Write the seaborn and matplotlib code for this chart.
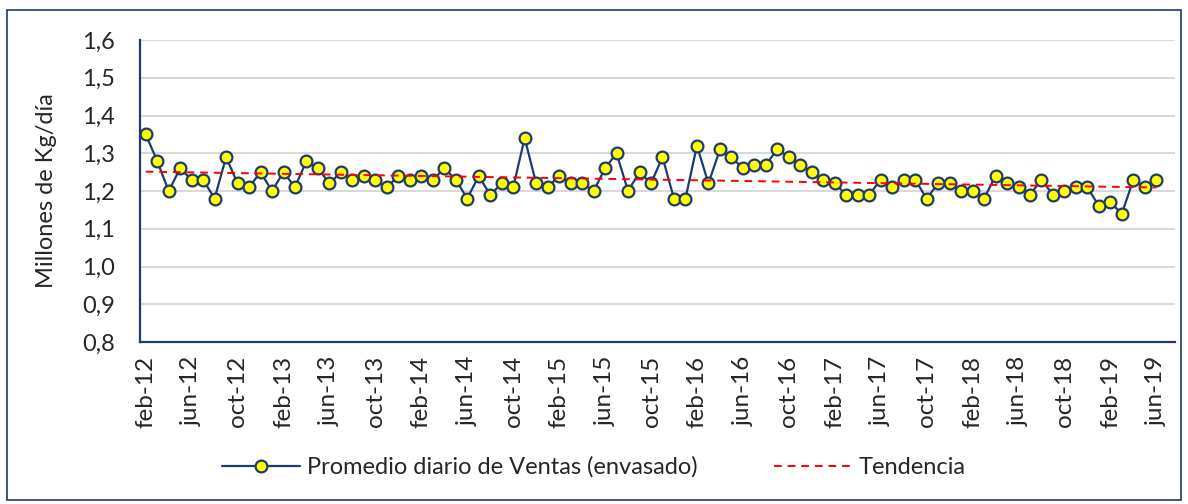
import matplotlib
matplotlib.use("Agg")
import matplotlib.pyplot as plt
import matplotlib.patches as mpatches
import numpy as np
import pandas as pd
import seaborn as sns

# monthly series feb-12 .. jun-19
months = ["ene", "feb", "mar", "abr", "may", "jun", "jul", "ago", "sep", "oct", "nov", "dic"]
ventas = [1.35, 1.28, 1.20, 1.26, 1.23, 1.23, 1.18, 1.29, 1.22, 1.21, 1.25, 1.20,
          1.25, 1.21, 1.28, 1.26, 1.22, 1.25, 1.23, 1.24, 1.23, 1.21, 1.24, 1.23,
          1.24, 1.23, 1.26, 1.23, 1.18, 1.24, 1.19, 1.22, 1.21, 1.34, 1.22, 1.21,
          1.24, 1.22, 1.22, 1.20, 1.26, 1.30, 1.20, 1.25, 1.22, 1.29, 1.18, 1.18,
          1.32, 1.22, 1.31, 1.29, 1.26, 1.27, 1.27, 1.31, 1.29, 1.27, 1.25, 1.23,
          1.22, 1.19, 1.19, 1.19, 1.23, 1.21, 1.23, 1.23, 1.18, 1.22, 1.22, 1.20,
          1.20, 1.18, 1.24, 1.22, 1.21, 1.19, 1.23, 1.19, 1.20, 1.21, 1.21, 1.16,
          1.17, 1.14, 1.23, 1.21, 1.23]

labels = []
for i in range(len(ventas)):
    m = (1 + i) % 12
    y = 12 + (1 + i) // 12
    labels.append(f"{months[m]}-{y}")

df = pd.DataFrame({"idx": np.arange(len(ventas)), "ventas": ventas})
# linear trend (Excel-style "Tendencia")
coef = np.polyfit(df["idx"], df["ventas"], 1)
df["tendencia"] = np.polyval(coef, df["idx"])

sns.set_style("white")
plt.rcParams["font.family"] = ["Lato", "DejaVu Sans"]

navy = "#1f3a6e"
txt = "#262626"
fig = plt.figure(figsize=(11.88, 5.04), dpi=100)
ax = fig.add_axes([0.1178, 0.3214, 0.871, 0.5992])

sns.lineplot(data=df, x="idx", y="ventas", ax=ax, color=navy, lw=1.6,
             marker="o", markersize=8.5, markerfacecolor="#ffff00",
             markeredgecolor=navy, markeredgewidth=1.6,
             label="Promedio diario de Ventas (envasado)")
sns.lineplot(data=df, x="idx", y="tendencia", ax=ax, color="#ff0000", lw=1.4,
             linestyle=(0, (4, 3)), label="Tendencia")

ax.set_ylim(0.8, 1.6)
ax.set_yticks(np.arange(0.8, 1.61, 0.1))
ax.set_yticklabels([f"{v:.1f}".replace(".", ",") for v in np.arange(0.8, 1.61, 0.1)],
                   fontsize=17, color=txt)
ax.set_xlim(-0.5, 89.6)
ticks = list(range(0, len(ventas), 4))
ax.set_xticks(ticks)
ax.set_xticklabels([labels[i] for i in ticks], rotation=90, fontsize=17.5, color=txt)
ax.tick_params(axis="y", length=0, pad=18)
ax.tick_params(axis="x", length=0, pad=10)
ax.grid(axis="y", color="#d9d9d9", lw=1.5)
ax.set_axisbelow(True)
for s in ["top", "right"]:
    ax.spines[s].set_visible(False)
for s in ["left", "bottom"]:
    ax.spines[s].set_color(navy)
    ax.spines[s].set_linewidth(1.6)
ax.set_xlabel("")
ax.set_ylabel("Millones de Kg/día", fontsize=17, color=txt, labelpad=18)

ax.legend(loc="center", bbox_to_anchor=(0.5, 0.0732), bbox_transform=fig.transFigure,
          ncol=2, frameon=False, fontsize=17, handlelength=3.3, columnspacing=3.2,
          handletextpad=0.3)

fig.patches.append(mpatches.Rectangle((0.006, 0.008), 0.988, 0.972, transform=fig.transFigure,
                                      fill=False, edgecolor=navy, lw=1.2))

fig.savefig("out.png", dpi=100)
